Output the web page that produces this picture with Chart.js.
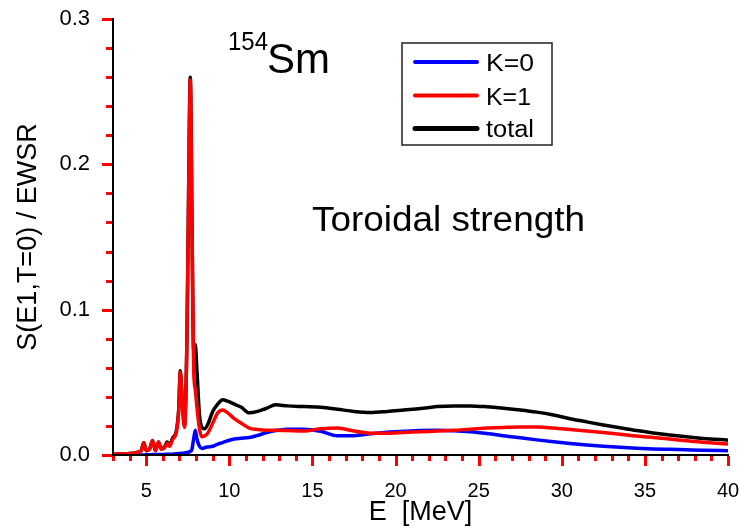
<!DOCTYPE html>
<html>
<head>
<meta charset="utf-8">
<script src="https://cdn.jsdelivr.net/npm/chart.js@4.4.0/dist/chart.umd.min.js"></script>
<style>
    html, body { margin: 0; padding: 0; background: #fff; }
    #wrap { width: 740px; height: 530px; position: relative; }
</style>
</head>
<body>
<div id="wrap"><canvas id="toroidalChart"></canvas></div>
<script>
// E [MeV]
const energy = [
    3, 4, 4.5, 4.7, 4.85,
    5.0, 5.2, 5.38, 5.55, 5.74,
    5.9, 6.1, 6.25, 6.4, 6.6,
    6.8, 6.95, 7.05, 7.15, 7.3,
    7.45, 7.55, 7.65, 7.75, 7.85,
    7.95, 8.05, 8.2, 8.35, 8.5,
    8.7, 9.0, 9.3, 9.6, 9.9,
    10.3, 10.7, 11.2, 11.7, 12.2,
    12.8, 13.5, 14.5, 15.5, 16.5,
    17.5, 18.5, 19.5, 20.5, 21.5,
    22.5, 23.5, 24.5, 25.5, 26.5,
    27.5, 28.5, 29.5, 30.5, 31.5,
    32.5, 33.5, 34.5, 35.5, 36.5,
    37.5, 38.5, 40
];

const strengthK0 = [
    0, 0, 0, 0, 0,
    0.0002, 0.0002, 0.0003, 0.0003, 0.0003,
    0.0004, 0.0004, 0.0005, 0.0005, 0.0006,
    0.0008, 0.001, 0.001, 0.0012, 0.0014,
    0.0018, 0.002, 0.0025, 0.004, 0.011,
    0.017, 0.011, 0.006, 0.0045, 0.005,
    0.0055, 0.006, 0.0075, 0.0085, 0.0098,
    0.011, 0.0115, 0.012, 0.0135, 0.0152,
    0.0168, 0.0177, 0.0178, 0.0163, 0.0132,
    0.0133, 0.0147, 0.0157, 0.0163, 0.0168,
    0.017, 0.0167, 0.016, 0.0148, 0.0133,
    0.0118, 0.0104, 0.0091, 0.0079, 0.0069,
    0.006, 0.0053, 0.0047, 0.0042, 0.0039,
    0.0036, 0.0033, 0.003
];

const strengthK1 = [
    0.0005, 0.001, 0.002, 0.003, 0.0085,
    0.003, 0.004, 0.010, 0.003, 0.009,
    0.004, 0.005, 0.008, 0.006, 0.011,
    0.015, 0.030, 0.057, 0.040, 0.019,
    0.080, 0.180, 0.258, 0.160, 0.060,
    0.045, 0.033, 0.018, 0.0125, 0.013,
    0.015, 0.022, 0.029, 0.031, 0.029,
    0.025, 0.022, 0.0185, 0.0175, 0.017,
    0.017, 0.0168, 0.0165, 0.018, 0.0185,
    0.0165, 0.015, 0.015, 0.0155, 0.016,
    0.0165, 0.017, 0.0178, 0.0185, 0.019,
    0.0193, 0.0192, 0.0185, 0.0175, 0.0165,
    0.0155, 0.0143, 0.013, 0.012, 0.011,
    0.0098, 0.0088, 0.0076
];

const strengthTotal = [
    0.0005, 0.001, 0.002, 0.003, 0.0085,
    0.003, 0.004, 0.010, 0.003, 0.009,
    0.0045, 0.0055, 0.009, 0.007, 0.012,
    0.016, 0.031, 0.058, 0.041, 0.020,
    0.082, 0.182, 0.260, 0.165, 0.072,
    0.076, 0.058, 0.028, 0.019, 0.018,
    0.021, 0.030, 0.035, 0.038, 0.037,
    0.035, 0.033, 0.029, 0.030, 0.032,
    0.0345, 0.0338, 0.0333, 0.0328, 0.0315,
    0.030, 0.0293, 0.030, 0.031, 0.032,
    0.0333, 0.0338, 0.0338, 0.0332, 0.0322,
    0.031, 0.0295, 0.0275, 0.025, 0.0228,
    0.0207, 0.0187, 0.0168, 0.0152, 0.0138,
    0.0125, 0.0114, 0.0102
];

const xTickLabels = [5, 10, 15, 20, 25, 30, 35, 40];
const yTickLabels = ['0.0', '0.1', '0.2', '0.3'];
const legendNames = ['K=0', 'K=1', 'total'];
const legendColors = ['#0000ff', '#ff0000', '#000000'];

const FONT = '"Liberation Sans", Arial, Helvetica, sans-serif';

function toPoints(values) {
    return energy.map((e, i) => ({ x: e, y: values[i] }));
}

// text squeezed/stretched to a given width, like the original figure
function drawFitText(ctx, text, x, y, size, width) {
    ctx.save();
    ctx.font = size + 'px ' + FONT;
    ctx.textAlign = 'left';
    ctx.textBaseline = 'alphabetic';
    const w = ctx.measureText(text).width;
    const sx = width ? width / w : 1;
    ctx.translate(x, y);
    ctx.scale(sx, 1);
    ctx.fillStyle = '#000';
    ctx.fillText(text, 0, 0);
    ctx.restore();
}

const axesPlugin = {
    id: 'originAxes',
    afterDraw(chart) {
        const ctx = chart.ctx;
        const xs = chart.scales.x;
        const ys = chart.scales.y;
        const area = chart.chartArea;
        const left = Math.round(area.left);
        const bottom = Math.round(area.bottom);

        ctx.save();
        ctx.fillStyle = '#000';
        ctx.fillRect(left - 1, bottom - 1, Math.round(area.right) - left + 2, 2);
        ctx.fillRect(left - 1, Math.round(area.top) - 1, 2, bottom - Math.round(area.top) + 2);
        // ticks: every 1 MeV (long every 5), every 0.02 (long every 0.1)
        ctx.fillStyle = '#ff0000';
        for (let v = 3; v <= 40; v++) {
            const px = Math.round(xs.getPixelForValue(v));
            const len = v % 5 === 0 ? 10 : 5;
            ctx.fillRect(px - 1, bottom + 1, 3, len);
        }
        for (let i = 0; i <= 15; i++) {
            const py = Math.round(ys.getPixelForValue(i * 0.02));
            const len = i % 5 === 0 ? 10 : 6;
            ctx.fillRect(left - 1 - len, py - 1, len, 3);
        }
        ctx.restore();

        drawFitText(ctx, '154', 228, 50, 25, 40);
        drawFitText(ctx, 'Sm', 267, 73, 42, 63);
        drawFitText(ctx, 'Toroidal strength', 312, 231, 35, 273);

        ctx.save();
        ctx.strokeStyle = '#222';
        ctx.lineWidth = 1.5;
        ctx.strokeRect(402, 43, 150, 102);
        const rows = [62, 95.5, 128.5];
        rows.forEach((ry, i) => {
            ctx.beginPath();
            ctx.strokeStyle = legendColors[i];
            ctx.lineWidth = i === 2 ? 5 : 4;
            ctx.lineCap = 'round';
            ctx.moveTo(415, ry);
            ctx.lineTo(477, ry);
            ctx.stroke();
        });
        ctx.restore();
        drawFitText(ctx, legendNames[0], 486, 71, 23, 48);
        drawFitText(ctx, legendNames[1], 486, 104.5, 23, 45);
        drawFitText(ctx, legendNames[2], 486, 137, 23, 48);
    }
};

new Chart(document.getElementById('toroidalChart'), {
    type: 'line',
    data: {
        datasets: [
            { label: 'K=1', data: toPoints(strengthK1), borderColor: '#ff0000', borderWidth: 3.5 },
            { label: 'K=0', data: toPoints(strengthK0), borderColor: '#0000ff', borderWidth: 3.5 },
            { label: 'total', data: toPoints(strengthTotal), borderColor: '#000000', borderWidth: 3.5 }
        ]
    },
    options: {
        responsive: true,
        maintainAspectRatio: false,
        animation: false,
        layout: {
            padding: { top: 19, right: 12, left: 0, bottom: 0 }
        },
        elements: {
            point: { radius: 0 },
            line: { cubicInterpolationMode: 'monotone', fill: false, borderJoinStyle: 'round' }
        },
        scales: {
            x: {
                type: 'linear',
                min: 3,
                max: 40,
                afterFit: (scale) => {
                    scale.height = 75;
                    scale.paddingLeft = 0;
                    scale.paddingRight = 0;
                },
                grid: { display: false },
                border: { display: false },
                ticks: {
                    stepSize: 1,
                    autoSkip: false,
                    maxRotation: 0,
                    padding: 16,
                    color: '#000',
                    font: { family: FONT, size: 20 },
                    callback: (value) => xTickLabels.includes(value) ? String(value) : ''
                },
                title: {
                    display: true,
                    text: 'E  [MeV]',
                    color: '#000',
                    font: { family: FONT, size: 27 },
                    padding: { top: 0, bottom: 1 }
                }
            },
            y: {
                type: 'linear',
                min: 0,
                max: 0.3,
                afterFit: (scale) => {
                    scale.width = 113;
                    scale.paddingTop = 0;
                    scale.paddingBottom = 0;
                },
                grid: { display: false },
                border: { display: false },
                ticks: {
                    stepSize: 0.02,
                    autoSkip: false,
                    padding: 15,
                    color: '#000',
                    font: { family: FONT, size: 22 },
                    callback: (value) => {
                        const k = Math.round(value * 10);
                        if (Math.abs(value * 10 - k) > 1e-6) return '';
                        return yTickLabels[k];
                    }
                },
                title: {
                    display: true,
                    text: 'S(E1,T=0) / EWSR',
                    color: '#000',
                    font: { family: FONT, size: 27 },
                    padding: { top: 12, bottom: 0 }
                }
            }
        },
        plugins: {
            legend: { display: false },
            tooltip: { enabled: false }
        }
    },
    plugins: [axesPlugin]
});
</script>
</body>
</html>
